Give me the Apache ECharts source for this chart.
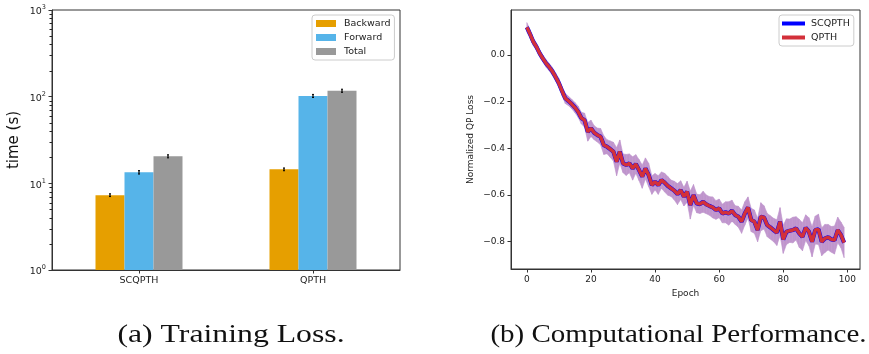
<!DOCTYPE html>
<html>
<head>
<meta charset="utf-8">
<script src="https://cdn.jsdelivr.net/npm/echarts@6/dist/echarts.min.js"></script>
<style>
html,body{margin:0;padding:0;background:#fff;}
#chart{width:869px;height:354px;}
</style>
</head>
<body>
<div id="chart"></div>
<script>
// ---- Left panel data (log-scale bar chart) ----
const categories = ['SCQPTH', 'QPTH'];
const barSeriesNames = ['Backward', 'Forward', 'Total'];
const backward = [7.3, 14.5];
const forward = [13.4, 102];
const total = [20.5, 117];
const backwardErr = [0.15, 0.3];
const forwardErr = [0.4, 2.5];
const totalErr = [0.5, 3];
const logMajorTicks = [1, 10, 100, 1000];
const logMinorTicks = [2,3,4,5,6,7,8,9,20,30,40,50,60,70,80,90,200,300,400,500,600,700,800,900];

// ---- Right panel data (loss curves) ----
const lineSeriesNames = ['SCQPTH', 'QPTH'];
const epochs = Array.from({length: 100}, (_, i) => i);
const qpthLoss = [
  0.119, 0.090, 0.057, 0.035, 0.007, -0.015, -0.036, -0.052, -0.071, -0.095,
  -0.121, -0.155, -0.186, -0.197, -0.210, -0.225, -0.243, -0.270, -0.279, -0.329,
  -0.314, -0.333, -0.343, -0.350, -0.386, -0.393, -0.403, -0.414, -0.457, -0.414,
  -0.464, -0.471, -0.464, -0.486, -0.467, -0.493, -0.521, -0.486, -0.514, -0.557,
  -0.543, -0.557, -0.536, -0.547, -0.561, -0.571, -0.581, -0.596, -0.579, -0.607,
  -0.586, -0.643, -0.600, -0.636, -0.639, -0.629, -0.640, -0.647, -0.653, -0.664,
  -0.657, -0.679, -0.674, -0.679, -0.667, -0.686, -0.693, -0.714, -0.679, -0.653,
  -0.707, -0.714, -0.750, -0.693, -0.696, -0.729, -0.739, -0.750, -0.761, -0.714,
  -0.790, -0.757, -0.753, -0.750, -0.743, -0.764, -0.779, -0.740, -0.757, -0.800,
  -0.750, -0.747, -0.800, -0.786, -0.781, -0.790, -0.793, -0.750, -0.771, -0.804
];
// SCQPTH curve is visually identical to QPTH (fully hidden beneath it)
const scqpthLoss = qpthLoss.slice();
const lossSpread = [
  0.020, 0.018, 0.016, 0.016, 0.015, 0.015, 0.016, 0.016, 0.017, 0.018,
  0.020, 0.020, 0.022, 0.020, 0.020, 0.022, 0.024, 0.025, 0.030, 0.040,
  0.035, 0.030, 0.030, 0.035, 0.040, 0.030, 0.035, 0.040, 0.060, 0.050,
  0.040, 0.045, 0.040, 0.050, 0.040, 0.045, 0.050, 0.045, 0.050, 0.040,
  0.035, 0.040, 0.035, 0.040, 0.040, 0.035, 0.040, 0.045, 0.040, 0.040,
  0.045, 0.060, 0.045, 0.040, 0.040, 0.045, 0.040, 0.040, 0.045, 0.040,
  0.040, 0.040, 0.045, 0.050, 0.045, 0.040, 0.045, 0.050, 0.050, 0.045,
  0.050, 0.050, 0.050, 0.060, 0.050, 0.050, 0.050, 0.050, 0.055, 0.060,
  0.060, 0.055, 0.050, 0.055, 0.050, 0.060, 0.060, 0.055, 0.060, 0.065,
  0.060, 0.065, 0.060, 0.060, 0.055, 0.055, 0.060, 0.055, 0.055, 0.065
];
const xTickValues = [0, 20, 40, 60, 80, 100];
const yTickValues = [-0.8, -0.6, -0.4, -0.2, 0.0];
const captions = ['(a) Training Loss.', '(b) Computational Performance.'];

// ---- styles ----
const BAR_W = 29;
const barColors = ['#E69F00', '#56B4E9', '#999999'];
const BAND_COLOR = 'rgb(192,150,205)';
const AX = '#333';
const FONT = 'DejaVu Sans';

// band segments: [x0, lo0, hi0, x1, lo1, hi1]
const bandSegments = [];
for (let i = 0; i < epochs.length - 1; i++) {
  bandSegments.push([
    epochs[i], qpthLoss[i] - lossSpread[i], qpthLoss[i] + lossSpread[i],
    epochs[i + 1], qpthLoss[i + 1] - lossSpread[i + 1], qpthLoss[i + 1] + lossSpread[i + 1]
  ]);
}

const errData = [];
[backwardErr, forwardErr, totalErr].forEach((errs, k) => {
  const vals = [backward, forward, total][k];
  vals.forEach((v, i) => errData.push([i, v, errs[i], k]));
});

const chart = echarts.init(document.getElementById('chart'), null, {renderer: 'canvas'});

const supRich = {
  b: {fontSize: 9.5, fontFamily: FONT, color: '#222', padding: [4, 0, 0, 0]},
  s: {fontSize: 6.5, fontFamily: FONT, color: '#222', padding: [0, 0, 5, 0]}
};

const option = {
  animation: false,
  backgroundColor: '#fff',
  grid: [
    {left: 52, top: 10, width: 348, height: 260, show: true, borderColor: AX, borderWidth: 1, backgroundColor: 'transparent'},
    {left: 511, top: 10, width: 349, height: 259, show: true, borderColor: AX, borderWidth: 1, backgroundColor: 'transparent'}
  ],
  legend: [
    {
      data: barSeriesNames,
      orient: 'vertical', left: 312, top: 15,
      itemWidth: 20, itemHeight: 7, itemGap: 3,
      icon: 'rect',
      padding: [3, 4, 3, 4],
      borderColor: '#ccc', borderWidth: 1, borderRadius: 3,
      backgroundColor: 'rgba(255,255,255,0.8)',
      textStyle: {fontFamily: FONT, fontSize: 9.5, color: '#222', lineHeight: 11, padding: [0, 0, 0, 3]}
    },
    {
      data: lineSeriesNames,
      orient: 'vertical', left: 779, top: 15,
      itemWidth: 23, itemHeight: 4, itemGap: 3,
      icon: 'rect',
      padding: [3, 4, 3, 3],
      borderColor: '#ccc', borderWidth: 1, borderRadius: 3,
      backgroundColor: 'rgba(255,255,255,0.8)',
      textStyle: {fontFamily: FONT, fontSize: 9.5, color: '#222', lineHeight: 11, padding: [0, 0, 0, 1]}
    }
  ],
  xAxis: [
    {
      gridIndex: 0, type: 'category', data: categories, boundaryGap: true,
      axisLine: {show: true, lineStyle: {color: AX}},
      axisTick: {show: true, alignWithLabel: true, length: 3.5, lineStyle: {color: AX}},
      axisLabel: {fontFamily: FONT, fontSize: 9.5, color: '#222', margin: 6},
      splitLine: {show: false}
    },
    {
      gridIndex: 1, type: 'value', min: -4.95, max: 103.95,
      axisLine: {show: true, onZero: false, lineStyle: {color: AX}},
      axisTick: {show: true, length: 3.5, lineStyle: {color: AX}, customValues: xTickValues},
      axisLabel: {fontFamily: FONT, fontSize: 9, color: '#222', margin: 6, customValues: xTickValues},
      splitLine: {show: false},
      name: 'Epoch', nameLocation: 'middle', nameGap: 19,
      nameTextStyle: {fontFamily: FONT, fontSize: 9, color: '#222'}
    }
  ],
  yAxis: [
    {
      gridIndex: 0, type: 'log', logBase: 10, min: 1, max: 1000, position: 'left',
      axisLine: {show: true, lineStyle: {color: AX}},
      axisTick: {show: true, length: 3.5, lineStyle: {color: AX}, customValues: logMajorTicks},
      axisLabel: {
        customValues: logMajorTicks, margin: 6,
        formatter: v => '{b|10}{s|' + Math.round(Math.log10(v)) + '}',
        rich: supRich
      },
      splitLine: {show: false},
      name: 'time (s)', nameLocation: 'middle', nameGap: 30,
      nameTextStyle: {fontFamily: FONT, fontSize: 15, color: '#111'}
    },
    {
      gridIndex: 1, type: 'value', min: -0.917, max: 0.193, position: 'left',
      axisLine: {show: true, onZero: false, lineStyle: {color: AX}},
      axisTick: {show: true, length: 3.5, lineStyle: {color: AX}, customValues: yTickValues},
      axisLabel: {
        fontFamily: FONT, fontSize: 9, color: '#222', margin: 6, customValues: yTickValues,
        formatter: v => (Math.abs(v) < 1e-9 ? '0.0' : v.toFixed(1).replace('-', '\u2212'))
      },
      splitLine: {show: false},
      name: 'Normalized QP Loss', nameLocation: 'middle', nameGap: 36,
      nameTextStyle: {fontFamily: FONT, fontSize: 9, color: '#222'}
    }
  ],
  series: [
    {name: 'Backward', type: 'bar', xAxisIndex: 0, yAxisIndex: 0, data: backward, barWidth: BAR_W, barGap: '0%', itemStyle: {color: barColors[0]}},
    {name: 'Forward', type: 'bar', xAxisIndex: 0, yAxisIndex: 0, data: forward, barWidth: BAR_W, barGap: '0%', itemStyle: {color: barColors[1]}},
    {name: 'Total', type: 'bar', xAxisIndex: 0, yAxisIndex: 0, data: total, barWidth: BAR_W, barGap: '0%', itemStyle: {color: barColors[2]}},
    {
      name: 'err', type: 'custom', xAxisIndex: 0, yAxisIndex: 0, data: errData, z: 5, silent: true,
      renderItem: (params, api) => {
        const c = api.value(0), v = api.value(1), e = api.value(2), k = api.value(3);
        const top = api.coord([c, v + e]);
        const bot = api.coord([c, v - e]);
        const x = top[0] + (k - 1) * BAR_W;
        return {type: 'group', children: [
          {type: 'line', shape: {x1: x, y1: top[1] - 0.6, x2: x, y2: bot[1] + 0.6}, style: {stroke: '#000', lineWidth: 1.2}},
          {type: 'line', shape: {x1: x - 1, y1: top[1] - 0.6, x2: x + 1, y2: top[1] - 0.6}, style: {stroke: '#000', lineWidth: 1}},
          {type: 'line', shape: {x1: x - 1, y1: bot[1] + 0.6, x2: x + 1, y2: bot[1] + 0.6}, style: {stroke: '#000', lineWidth: 1}}
        ]};
      }
    },
    {
      // minor log ticks (2..9 per decade) placed via the log y scale
      name: 'minorTicks', type: 'custom', xAxisIndex: 0, yAxisIndex: 0, silent: true, z: 6,
      data: logMinorTicks.map(v => [0, v]),
      encode: {x: 0, y: 1},
      renderItem: (params, api) => {
        const p = api.coord([0, api.value(1)]);
        const x0 = params.coordSys.x;
        const y = Math.round(p[1]) + 0.5;
        return {type: 'line', shape: {x1: x0 - 2.5, y1: y, x2: x0, y2: y},
          style: {stroke: '#222', lineWidth: 1}};
      }
    },
    {
      name: 'band', type: 'custom', xAxisIndex: 1, yAxisIndex: 1, data: bandSegments, silent: true, z: 1,
      encode: {x: [0, 3], y: [1, 2, 4, 5]},
      renderItem: (params, api) => {
        const a = api.coord([api.value(0), api.value(1)]);
        const b = api.coord([api.value(0), api.value(2)]);
        const c = api.coord([api.value(3), api.value(5)]);
        const d = api.coord([api.value(3), api.value(4)]);
        return {type: 'polygon', shape: {points: [a, b, c, d]},
          style: {fill: BAND_COLOR, stroke: BAND_COLOR, lineWidth: 0.6}};
      }
    },
    {
      name: 'SCQPTH', type: 'line', xAxisIndex: 1, yAxisIndex: 1, z: 3,
      data: scqpthLoss.map((v, i) => [epochs[i], v]), symbol: 'none',
      lineStyle: {color: '#0000ff', width: 4.2}, itemStyle: {color: '#0000ff'}
    },
    {
      name: 'QPTH', type: 'line', xAxisIndex: 1, yAxisIndex: 1, z: 4,
      data: qpthLoss.map((v, i) => [epochs[i], v]), symbol: 'none',
      lineStyle: {color: '#d3303a', width: 3.4}, itemStyle: {color: '#d3303a'}
    }
  ],
  graphic: [
    {type: 'text', x: 231, y: 335, scaleX: 1.27, style: {text: captions[0], font: '25px "Liberation Serif"', fill: '#111', textAlign: 'center', textVerticalAlign: 'middle'}},
    {type: 'text', x: 678.5, y: 335, scaleX: 1.16, style: {text: captions[1], font: '25px "Liberation Serif"', fill: '#111', textAlign: 'center', textVerticalAlign: 'middle'}}
  ]
};
chart.setOption(option);
</script>
</body>
</html>
